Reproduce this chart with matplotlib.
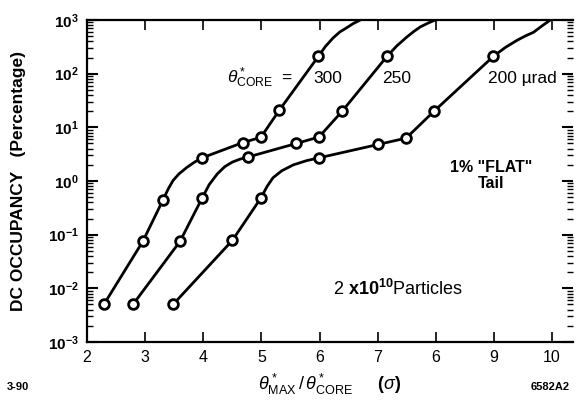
import matplotlib
matplotlib.use("Agg")
import matplotlib.pyplot as plt
from matplotlib.ticker import LogLocator, FixedLocator, NullFormatter

plt.rcParams['font.family'] = ['Liberation Sans', 'DejaVu Sans']
plt.rcParams['mathtext.fontset'] = 'custom'
plt.rcParams['mathtext.rm'] = 'Liberation Sans'
plt.rcParams['mathtext.it'] = 'Liberation Sans:italic'
plt.rcParams['mathtext.bf'] = 'Liberation Sans:bold'

# ---- data ----
x_300 = [2.29, 2.96, 3.31, 3.98, 4.68, 4.99, 5.31, 5.98]
y_300 = [0.005, 0.075, 0.45, 2.7, 5.2, 6.5, 21, 210]
path_x_300 = [2.29, 2.96, 3.31, 3.40, 3.48, 3.58, 3.72, 3.85, 3.98, 4.68, 4.99, 5.31,
              5.98, 6.10, 6.23, 6.35, 6.47, 6.58, 6.70]
path_y_300 = [0.005, 0.075, 0.45, 0.72, 1.02, 1.35, 1.8, 2.25, 2.7, 5.2, 6.5, 21,
              210, 320, 460, 600, 720, 860, 1000]

x_250 = [2.79, 3.60, 3.98, 4.77, 5.60, 5.99, 6.39, 7.16]
y_250 = [0.005, 0.075, 0.48, 2.8, 5.0, 6.6, 20, 210]
path_x_250 = [2.79, 3.60, 3.98, 4.10, 4.24, 4.37, 4.50, 4.63, 4.77, 5.60, 5.99, 6.39,
              7.16, 7.33, 7.50, 7.62, 7.73, 7.86, 7.99]
path_y_250 = [0.005, 0.075, 0.48, 0.85, 1.35, 1.85, 2.25, 2.55, 2.8, 5.0, 6.6, 20,
              210, 330, 480, 610, 740, 870, 1000]

x_200 = [3.48, 4.50, 4.99, 5.99, 7.01, 7.49, 7.97, 8.99]
y_200 = [0.005, 0.078, 0.48, 2.7, 4.8, 6.3, 20, 210]
path_x_200 = [3.48, 4.50, 4.99, 5.10, 5.20, 5.35, 5.55, 5.78, 5.99, 7.01, 7.49, 7.97,
              8.99, 9.20, 9.40, 9.55, 9.68, 9.83, 9.97]
path_y_200 = [0.005, 0.078, 0.48, 0.80, 1.15, 1.55, 2.0, 2.4, 2.7, 4.8, 6.3, 20,
              210, 310, 420, 510, 590, 780, 1000]

x_ticks = [2, 3, 4, 5, 6, 7, 8, 9, 10]
x_tick_labels = ["2", "3", "4", "5", "6", "7", "6", "9", "10"]

fig = plt.figure(figsize=(5.77, 4.0), dpi=100)
ax = fig.add_axes([87/577, 1-342/400, (573-87)/577, (342-20)/400])

series = [(path_x_300, path_y_300, x_300, y_300),
          (path_x_250, path_y_250, x_250, y_250),
          (path_x_200, path_y_200, x_200, y_200)]
for px, py, mx, my in series:
    ax.plot(px, py, color='black', lw=2.0, solid_capstyle='round', solid_joinstyle='round', zorder=2)
    ax.plot(mx, my, ls='none', marker='o', ms=7, mfc='white', mec='black', mew=2.0, zorder=3)

ax.set_yscale('log')
ax.set_xlim(2, 10.36)
ax.set_ylim(1e-3, 1e3)

ax.xaxis.set_major_locator(FixedLocator(x_ticks))
ax.set_xticklabels(x_tick_labels, fontsize=11.5)
ax.tick_params(axis='x', which='major', direction='in', length=7, width=1.2,
               top=True, bottom=True, pad=6)
ax.yaxis.set_major_locator(LogLocator(base=10, numticks=10))
ax.yaxis.set_minor_locator(LogLocator(base=10, subs=range(2, 10), numticks=20))
ax.yaxis.set_minor_formatter(NullFormatter())
ax.tick_params(axis='y', which='major', direction='in', length=8, width=1.5,
               left=True, right=True, labelsize=11, pad=6)
ax.tick_params(axis='y', which='minor', direction='in', length=4, width=1.0,
               left=True, right=True)
for lab in ax.get_yticklabels():
    lab.set_fontweight('bold')

for s in ['left', 'bottom', 'top']:
    ax.spines[s].set_linewidth(1.6)
ax.spines['right'].set_visible(False)

ax.set_ylabel('DC OCCUPANCY   (Percentage)', fontsize=12.5, fontweight='bold')
ax.yaxis.set_label_coords(-0.125, 0.5)
ax.set_xlabel(r'$\theta^*_{\rm MAX}\,/\,\theta^*_{\rm CORE}$     ($\sigma$)', fontsize=13,
              fontweight='bold', labelpad=5)

ax.text(5.55, 66, r'$\theta^*_{\rm CORE}$  =', fontsize=12.5, ha='right', va='baseline')
ax.text(5.89, 66, '300', fontsize=12.5, ha='left', va='baseline')
ax.text(7.08, 66, '250', fontsize=12.5, ha='left', va='baseline')
ax.text(8.90, 66, '200 \u00b5rad', fontsize=12.5, ha='left', va='baseline')
ax.text(8.96, 1.8, '1% "FLAT"', fontsize=11.5, fontweight='bold', ha='center', va='center')
ax.text(8.96, 0.91, 'Tail', fontsize=11.5, fontweight='bold', ha='center', va='center')
ax.text(7.35, 0.0098, r'2 $\mathbf{x10^{10}}$Particles', fontsize=13, ha='center', va='center')

fig.text(7/577, 1-387/400, '3-90', fontsize=8, fontweight='bold', ha='left', va='center')
fig.text(570/577, 1-387/400, '6582A2', fontsize=8, fontweight='bold', ha='right', va='center')

fig.savefig('out.png', dpi=100)
